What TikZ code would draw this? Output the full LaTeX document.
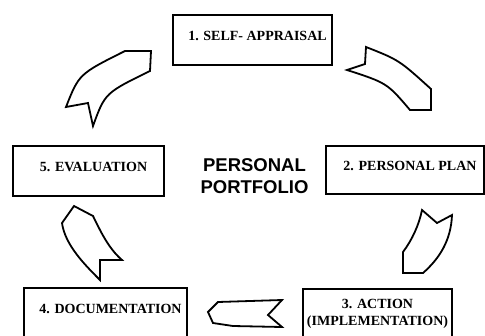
\documentclass[tikz,border=0pt]{standalone}
\usepackage{fontspec}
\setmainfont{Liberation Serif}
\newfontfamily\titlefont{Liberation Sans}
\usepackage{tikz}
\tikzset{
  stagebox/.style = {rectangle, draw, line width=2pt, font=\bfseries\fontsize{14}{17}\selectfont, inner sep=2pt},
  oneline/.style = {text height=10pt, text depth=8.8pt, execute at begin node={\hspace*{10pt}}},
  ribbon/.style = {draw, fill=white, line width=1.8pt, line join=miter},
  titletext/.style = {font=\titlefont\bfseries\fontsize{18.5}{22}\selectfont, align=center},
}

\begin{document}
\begin{tikzpicture}[x=1pt, y=-1pt]
\useasboundingbox (0,0) rectangle (485,335);
% the five stages
\node[stagebox, oneline, minimum width=159pt, minimum height=50pt] (appraisal) at (252.5,40) {1. SELF- APPRAISAL};
\node[stagebox, oneline, minimum width=158pt, minimum height=48pt] (plan) at (405,170) {2. PERSONAL PLAN};
\node[stagebox, align=center, minimum width=149pt, minimum height=50pt] (action) at (377.5,314) {3. ACTION\\(IMPLEMENTATION)};
\node[stagebox, oneline, minimum width=163pt, minimum height=50pt] (docu) at (105.5,313) {4. DOCUMENTATION};
\node[stagebox, oneline, minimum width=151pt, minimum height=50pt] (evaluation) at (88.5,171) {5. EVALUATION};
\node[titletext] (portfolio) at (254.5,176) {PERSONAL\\PORTFOLIO};
% ribbon arrows round the cycle
\draw[ribbon] (366,47) .. controls (399,60) .. (431,89) -- (431,110) -- (410,110)
  .. controls (387,83) .. (347,70) -- (365,64) -- cycle;
\draw[ribbon] (422,210) -- (437,223) -- (452,215) .. controls (451,240) and (440,258) .. (423,273)
  -- (403,273) -- (403,252) .. controls (412,240) and (419,225) .. (422,210) -- cycle;
\draw[ribbon] (282,300) -- (218,302) -- (208,312) -- (213,323) -- (233,326) -- (282,327) -- (268,315) -- cycle;
\draw[ribbon] (62,223) -- (74,206) -- (93,216) .. controls (100,230) and (108,248) .. (122,260)
  -- (100,260) -- (100,280) .. controls (85,265) and (65,245) .. (62,223) -- cycle;
\draw[ribbon] (125,51) -- (151,51) -- (150,71) .. controls (105,93) .. (93,126)
  -- (88,103) -- (66,107) .. controls (79,74) .. (125,51) -- cycle;
\end{tikzpicture}
\end{document}
